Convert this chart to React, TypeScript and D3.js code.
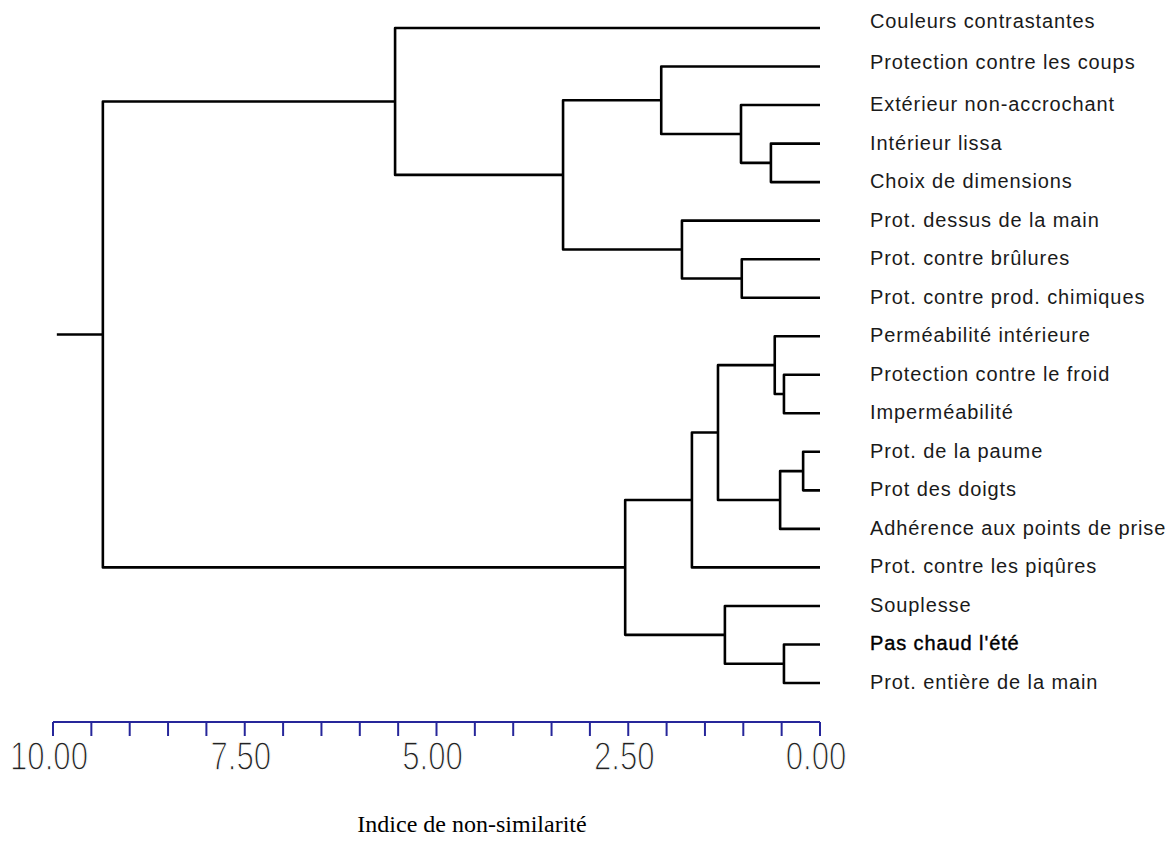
import React from "react";
import * as d3 from "d3";

// Leaves, top to bottom
const leafNames = [
  "Couleurs contrastantes",
  "Protection contre les coups",
  "Extérieur non-accrochant",
  "Intérieur lissa",
  "Choix de dimensions",
  "Prot. dessus de la main",
  "Prot. contre brûlures",
  "Prot. contre prod. chimiques",
  "Perméabilité intérieure",
  "Protection contre le froid",
  "Imperméabilité",
  "Prot. de la paume",
  "Prot des doigts",
  "Adhérence aux points de prise",
  "Prot.  contre les piqûres",
  "Souplesse",
  "Pas chaud l'été",
  "Prot. entière de la main",
];

// Merges (agglomeration steps)
const mergeIds = ["F", "E", "C", "G", "D", "B", "A", "N", "L", "O", "M", "J", "I", "P", "K", "H", "ROOT"];
const mergeLeft = [
  "Intérieur lissa",
  "Extérieur non-accrochant",
  "Protection contre les coups",
  "Prot. contre brûlures",
  "Prot. dessus de la main",
  "C",
  "Couleurs contrastantes",
  "Protection contre le froid",
  "Perméabilité intérieure",
  "Prot. de la paume",
  "O",
  "L",
  "J",
  "Pas chaud l'été",
  "Souplesse",
  "I",
  "A",
];
const mergeRight = [
  "Choix de dimensions",
  "F",
  "E",
  "Prot. contre prod. chimiques",
  "G",
  "D",
  "B",
  "Imperméabilité",
  "N",
  "Prot des doigts",
  "Adhérence aux points de prise",
  "M",
  "Prot.  contre les piqûres",
  "Prot. entière de la main",
  "P",
  "K",
  "H",
];
const mergeHeights = [0.64, 1.03, 2.07, 1.02, 1.8, 3.35, 5.54, 0.47, 0.59, 0.22, 0.52, 1.33, 1.67, 0.47, 1.24, 2.54, 9.35];
const rootStubHeight = 9.95;

// Axis
const axisMinorTicks = d3.range(0, 10.001, 0.5);
const axisLabelValues = [10, 7.5, 5, 2.5, 0];
const axisLabels = ["10.00", "7.50", "5.00", "2.50", "0.00"];
const axisTitle = "Indice de non-similarité";

type N = { name: string; height: number; children?: N[] };

function buildTree(): N {
  const map = new Map<string, N>();
  leafNames.forEach((n) => map.set(n, { name: n, height: 0 }));
  mergeIds.forEach((id, i) => {
    map.set(id, {
      name: id,
      height: mergeHeights[i],
      children: [map.get(mergeLeft[i])!, map.get(mergeRight[i])!],
    });
  });
  return map.get("ROOT")!;
}

export default function App() {
  const W = 1175;
  const H = 846;
  const x = d3.scaleLinear().domain([10, 0]).range([53, 820]);
  const y = d3.scalePoint<string>().domain(leafNames).range([28, 683]);

  const root = d3.hierarchy<N>(buildTree());
  const pos = new Map<any, number>();
  root.eachAfter((n: any) => {
    if (!n.children) pos.set(n, y(n.data.name)!);
    else pos.set(n, d3.mean(n.children, (c: any) => pos.get(c)!)!);
  });

  const paths: string[] = [];
  root.each((n: any) => {
    if (!n.children) return;
    const [c1, c2] = n.children;
    const xn = x(n.data.height);
    paths.push(
      `M${x(c1.data.height)},${pos.get(c1)}H${xn}V${pos.get(c2)}H${x(c2.data.height)}`
    );
  });
  const rootY = pos.get(root)!;
  paths.push(`M${x(rootStubHeight)},${rootY}H${x(root.data.height)}`);

  const axisY = 722;
  const axisColor = "#26269a";

  return (
    <svg
      width={W}
      height={H}
      style={{ position: "absolute", left: 0, top: 0, background: "#fff" }}
    >
      <g fill="none" stroke="#000" strokeWidth={2.6} strokeLinejoin="round" strokeLinecap="butt">
        {paths.map((d, i) => (
          <path key={i} d={d} />
        ))}
      </g>
      <g fontFamily="'Liberation Sans', Arial, sans-serif" fontSize={20} letterSpacing={0.9}>
        {root.leaves().map((l: any, i) => (
          <text
            key={i}
            x={870}
            y={pos.get(l)! - 1 - (i === 0 ? 6 : i === 1 ? 4 : 0)}
            dominantBaseline="central"
            fill={l.data.name === "Pas chaud l'été" ? "#000" : "#1a1a1a"}
            stroke={l.data.name === "Pas chaud l'été" ? "#000" : "none"}
            strokeWidth={0.4}
          >
            {l.data.name}
          </text>
        ))}
      </g>
      <g stroke={axisColor} strokeWidth={2}>
        <line x1={x(10)} x2={x(0)} y1={axisY} y2={axisY} />
        {axisMinorTicks.map((t) => (
          <line key={t} x1={x(t)} x2={x(t)} y1={axisY} y2={axisY + 14} />
        ))}
      </g>
      <g
        fontFamily="'Liberation Sans', Arial, sans-serif"
        fontSize={40}
        fill="#222"
        stroke="#fff"
        strokeWidth={1.3}
        style={{ paintOrder: "fill" }}
      >
        {axisLabelValues.map((v, i) => (
          <text
            key={v}
            transform={`translate(${x(v) - 4},770) scale(0.78,1)`}
            textAnchor="middle"
          >
            {axisLabels[i]}
          </text>
        ))}
      </g>
      <text
        x={472}
        y={832}
        textAnchor="middle"
        fontFamily="'Liberation Serif', 'Times New Roman', serif"
        fontSize={24}
        fill="#000"
      >
        {axisTitle}
      </text>
    </svg>
  );
}
